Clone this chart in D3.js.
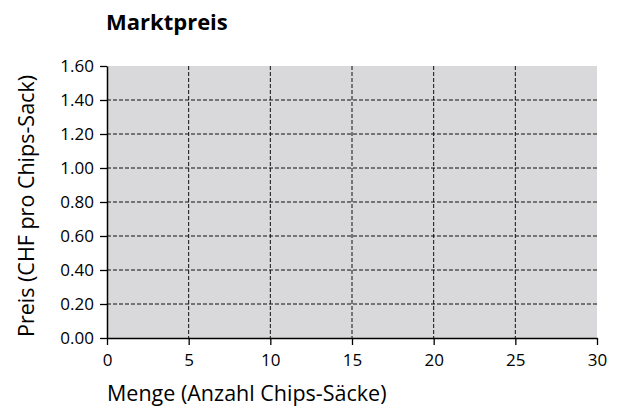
<!DOCTYPE html>
<html>
<head>
<meta charset="utf-8">
<script src="https://cdn.jsdelivr.net/npm/d3@7"></script>
<style>
  body { margin: 0; background: #fff; }
  text { font-family: "Open Sans", "Liberation Sans", sans-serif; fill: #000; }
</style>
</head>
<body>
<svg id="chart" width="620" height="410"></svg>
<script>
const title = 'Marktpreis';
const xLabel = 'Menge (Anzahl Chips-Säcke)';
const yLabel = 'Preis (CHF pro Chips-Sack)';
const xTicks = [0, 5, 10, 15, 20, 25, 30];
const yTicks = [0, 0.2, 0.4, 0.6, 0.8, 1.0, 1.2, 1.4, 1.6];
const xDomain = [0, 30];
const yDomain = [0, 1.6];

const svg = d3.select('#chart');
const plotLeft = 107, plotRight = 597, plotTop = 66, plotBottom = 338;

const x = d3.scaleLinear().domain(xDomain).range([plotLeft, plotRight]);
const y = d3.scaleLinear().domain(yDomain).range([plotBottom, plotTop]);

/* grey plot area */
svg.append('rect')
  .attr('x', plotLeft).attr('y', plotTop)
  .attr('width', plotRight - plotLeft).attr('height', plotBottom - plotTop)
  .attr('fill', '#d9d9db');

/* dashed grid, no line on the outer ticks */
svg.selectAll('.hgrid')
  .data(yTicks.slice(1, -1))
  .enter().append('line')
  .attr('x1', plotLeft).attr('x2', plotRight)
  .attr('y1', (d) => y(d)).attr('y2', (d) => y(d))
  .attr('stroke', '#111').attr('stroke-width', 1)
  .attr('stroke-dasharray', '4,2');

svg.selectAll('.vgrid')
  .data(xTicks.slice(1, -1))
  .enter().append('line')
  .attr('x1', (d) => x(d)).attr('x2', (d) => x(d))
  .attr('y1', plotTop).attr('y2', plotBottom)
  .attr('stroke', '#111').attr('stroke-width', 1)
  .attr('stroke-dasharray', '4,2');

/* axes */
const xAxis = svg.append('g')
  .attr('transform', `translate(0,${plotBottom})`)
  .call(d3.axisBottom(x).tickValues(xTicks).tickSize(7).tickSizeOuter(0).tickPadding(9));

const yAxis = svg.append('g')
  .attr('transform', `translate(${plotLeft},0)`)
  .call(d3.axisLeft(y).tickValues(yTicks).tickFormat(d3.format('.2f')).tickSize(7).tickSizeOuter(0).tickPadding(6));

[xAxis, yAxis].forEach((g) => {
  g.select('.domain').attr('stroke', '#000').attr('stroke-width', 1.5);
  g.selectAll('.tick line').attr('stroke', '#000').attr('stroke-width', 1.3);
  g.selectAll('.tick text')
    .attr('font-family', '"Open Sans", "Liberation Sans", sans-serif')
    .attr('font-size', 17).attr('fill', '#000');
});

/* titles */
svg.append('text')
  .attr('x', 106).attr('y', 30)
  .attr('font-size', 22).attr('font-weight', 'bold')
  .text(title);

svg.append('text')
  .attr('x', 107).attr('y', 401)
  .attr('font-size', 21.5)
  .text(xLabel);

svg.append('text')
  .attr('transform', 'translate(34,206) rotate(-90)')
  .attr('text-anchor', 'middle')
  .attr('font-size', 21.5)
  .text(yLabel);
</script>
</body>
</html>
